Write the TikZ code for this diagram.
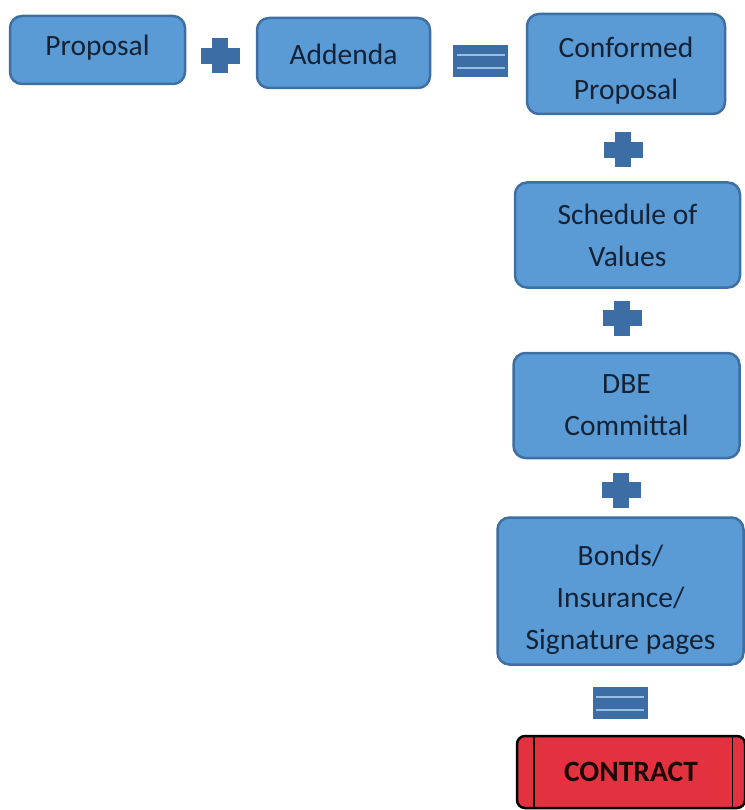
\documentclass[tikz,border=0pt]{standalone}
\usepackage{fontspec}
\setmainfont{Carlito}
\definecolor{boxfill}{HTML}{5B9BD5}
\definecolor{boxline}{HTML}{3E6FA3}
\definecolor{boxtext}{HTML}{142236}
\definecolor{signc}{HTML}{3D6DA5}
\definecolor{eqstripe}{HTML}{9ABDE3}
\definecolor{redfill}{HTML}{E2323F}
\definecolor{redtext}{HTML}{1E0606}
\tikzset{
  bluebox/.style={draw=boxline, line width=2.5pt, fill=boxfill, rounded corners=12pt, inner sep=0pt},
  boxlabel/.style={text=boxtext, align=center, inner sep=0pt, font=\fontsize{29.5}{42}\selectfont},
  plussign/.pic={
    \fill[signc] (-19.5,-8) rectangle (19.5,8);
    \fill[signc] (-8,-17.5) rectangle (8,17.5);
  },
  equalsign/.pic={
    \fill[signc] (-27.5,-16) rectangle (27.5,16);
    \draw[eqstripe, line width=2.5pt] (-24,-6) -- (24,-6);
    \draw[eqstripe, line width=2.5pt] (-24,7) -- (24,7);
  }
}
\begin{document}
\begin{tikzpicture}[x=1pt,y=-1pt]
\useasboundingbox (0,0) rectangle (744,810);
\node[bluebox, minimum width=175pt, minimum height=68pt] (proposal) at (97.5,50) {};
\node[boxlabel] (proposal-t) at ([yshift=2pt]proposal.center) {Proposal};
\node[bluebox, minimum width=173pt, minimum height=70pt] (addenda) at (343.5,53) {};
\node[boxlabel] (addenda-t) at ([yshift=-1pt]addenda.center) {Addenda};
\node[bluebox, minimum width=198pt, minimum height=100pt] (conformed) at (626,64) {};
\node[boxlabel] (conformed-t) at ([yshift=-7pt]conformed.center) {Conformed\\Proposal};
\node[bluebox, minimum width=225pt, minimum height=105pt] (schedule) at (627.5,235) {};
\node[boxlabel] (schedule-t) at (schedule.center) {Schedule of\\Values};
\node[bluebox, minimum width=226pt, minimum height=105pt] (dbe) at (626.5,405.5) {};
\node[boxlabel] (dbe-t) at (dbe.center) {DBE\\Committal};
\node[bluebox, minimum width=246pt, minimum height=147pt] (bonds) at (620.5,591) {};
\node[boxlabel] (bonds-t) at ([yshift=-9pt]bonds.center) {Bonds/\\Insurance/\\Signature pages};
\node[draw=black, line width=2.5pt, fill=redfill, rounded corners=8pt, minimum width=228pt, minimum height=72pt,
  text=redtext, inner sep=0pt, font=\fontsize{29.5}{32}\selectfont\bfseries] (contract) at (631,772) {CONTRACT};
\draw[black, line width=1.5pt] ([xshift=18pt]contract.north west) -- ([xshift=18pt]contract.south west);
\draw[black, line width=1.5pt] ([xshift=-14pt]contract.north east) -- ([xshift=-14pt]contract.south east);
\pic at (220,56) {plussign};
\pic at (480.5,61) {equalsign};
\pic at (623,150) {plussign};
\pic at (622,318) {plussign};
\pic at (621,490) {plussign};
\pic at (620,703) {equalsign};
\end{tikzpicture}
\end{document}
